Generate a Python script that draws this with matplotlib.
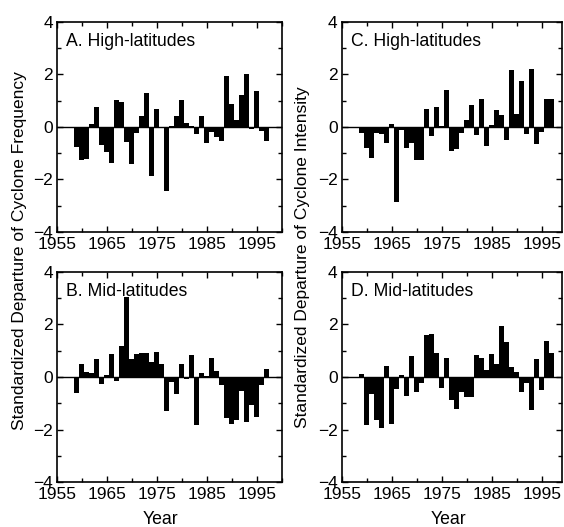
import matplotlib
matplotlib.use('Agg')
import matplotlib.pyplot as plt
from matplotlib.ticker import MultipleLocator

plt.rcParams['font.family'] = ['Liberation Sans', 'DejaVu Sans']

years = list(range(1959, 1998))

# A. 高纬度 气旋频率
high_freq = [-0.78, -1.27, -1.24, 0.10, 0.77, -0.68, -0.95, -1.37, 1.02, 0.95,
             -0.56, -1.40, -0.24, 0.40, 1.28, -1.86, 0.67, -0.06, -2.43, 0.03,
             0.42, 1.01, 0.15, 0.02, -0.29, 0.40, -0.60, -0.20, -0.40, -0.55,
             1.94, 0.86, 0.27, 1.20, 2.00, -0.10, 1.36, -0.15, -0.55]
# B. 中纬度 气旋频率
mid_freq = [-0.60, 0.48, 0.18, 0.17, 0.68, -0.27, 0.09, 0.87, -0.15, 1.18,
            3.05, 0.68, 0.89, 0.92, 0.91, 0.58, 0.95, 0.48, -1.29, -0.19,
            -0.63, 0.48, -0.09, 0.85, -1.82, 0.15, 0.02, 0.71, 0.23, -0.32,
            -1.54, -1.77, -1.65, -0.53, -1.71, -1.05, -1.53, -0.30, 0.32]
# C. 高纬度 气旋强度
high_int = [-0.23, -0.82, -1.20, -0.22, -0.28, -0.60, 0.10, -2.85, -0.13, -0.82,
            -0.60, -1.25, -1.25, 0.67, -0.34, 0.77, 0.02, 1.40, -0.90, -0.86,
            -0.22, 0.25, 0.82, -0.32, 1.06, -0.73, 0.07, 0.66, 0.45, -0.50,
            2.16, 0.50, 1.73, -0.26, 2.20, -0.66, -0.20, 1.07, 1.07]
# D. 中纬度 气旋强度
mid_int = [0.12, -1.83, -0.65, -1.65, -1.93, 0.42, -1.77, -0.44, 0.08, -0.73,
           0.80, -0.57, -0.23, 1.58, 1.62, 0.92, -0.40, 0.72, -0.86, -1.22,
           -0.57, -0.77, -0.76, 0.82, 0.73, 0.27, 0.86, 0.49, 1.92, 1.33,
           0.38, 0.20, -0.58, -0.23, -1.27, 0.68, -0.48, 1.37, 0.90]

titles = ['A. High-latitudes', 'B. Mid-latitudes',
          'C. High-latitudes', 'D. Mid-latitudes']
xticks = [1955, 1965, 1975, 1985, 1995]
yticks = [-4, -2, 0, 2, 4]

W, H = 564, 527
fig = plt.figure(figsize=(W / 100, H / 100), dpi=100)


def px_axes(left, top, right, bottom):
    # 像素坐标 -> figure 坐标
    return fig.add_axes([left / W, 1 - bottom / H, (right - left) / W, (bottom - top) / H])


panels = [
    (px_axes(57, 21.7, 281.7, 232), high_freq, titles[0], 2000),
    (px_axes(57, 271.7, 281.7, 482.3), mid_freq, titles[1], 2000),
    (px_axes(341.7, 21.7, 562, 232), high_int, titles[2], 1999),
    (px_axes(341.7, 271.7, 562, 482.3), mid_int, titles[3], 1999),
]

for ax, vals, title, xmax in panels:
    ax.bar(years, vals, width=1.0, color='black', edgecolor='black', linewidth=0)
    ax.axhline(0, color='black', linewidth=1.0)
    ax.set_xlim(1955, xmax)
    ax.set_ylim(-4, 4)
    ax.set_xticks(xticks)
    ax.set_yticks(yticks)
    ax.xaxis.set_minor_locator(MultipleLocator(5))
    ax.yaxis.set_minor_locator(MultipleLocator(1))
    ax.tick_params(which='both', direction='in', top=True, right=True,
                   labelsize=12.5, width=1.0)
    ax.tick_params(axis='x', which='major', pad=3.5)
    ax.tick_params(axis='y', which='major', pad=3)
    ax.tick_params(which='major', length=4)
    ax.tick_params(which='minor', length=3)
    for s in ax.spines.values():
        s.set_linewidth(1.2)
    ax.text(9 / 224.7, 1 - 11 / 210.3, title, transform=ax.transAxes,
            fontsize=12.7, va='top', ha='left')

fig.text(20 / W, 1 - 251 / H, 'Standardized Departure of Cyclone Frequency',
         rotation=90, fontsize=12.5, ha='center', va='center')
fig.text(303 / W, 1 - 257 / H, 'Standardized Departure of Cyclone Intensity',
         rotation=90, fontsize=12.5, ha='center', va='center')
fig.text(160 / W, 1 - 519 / H, 'Year', fontsize=12.7, ha='center', va='center')
fig.text(448 / W, 1 - 519 / H, 'Year', fontsize=12.7, ha='center', va='center')

fig.savefig('out.png', dpi=100)
